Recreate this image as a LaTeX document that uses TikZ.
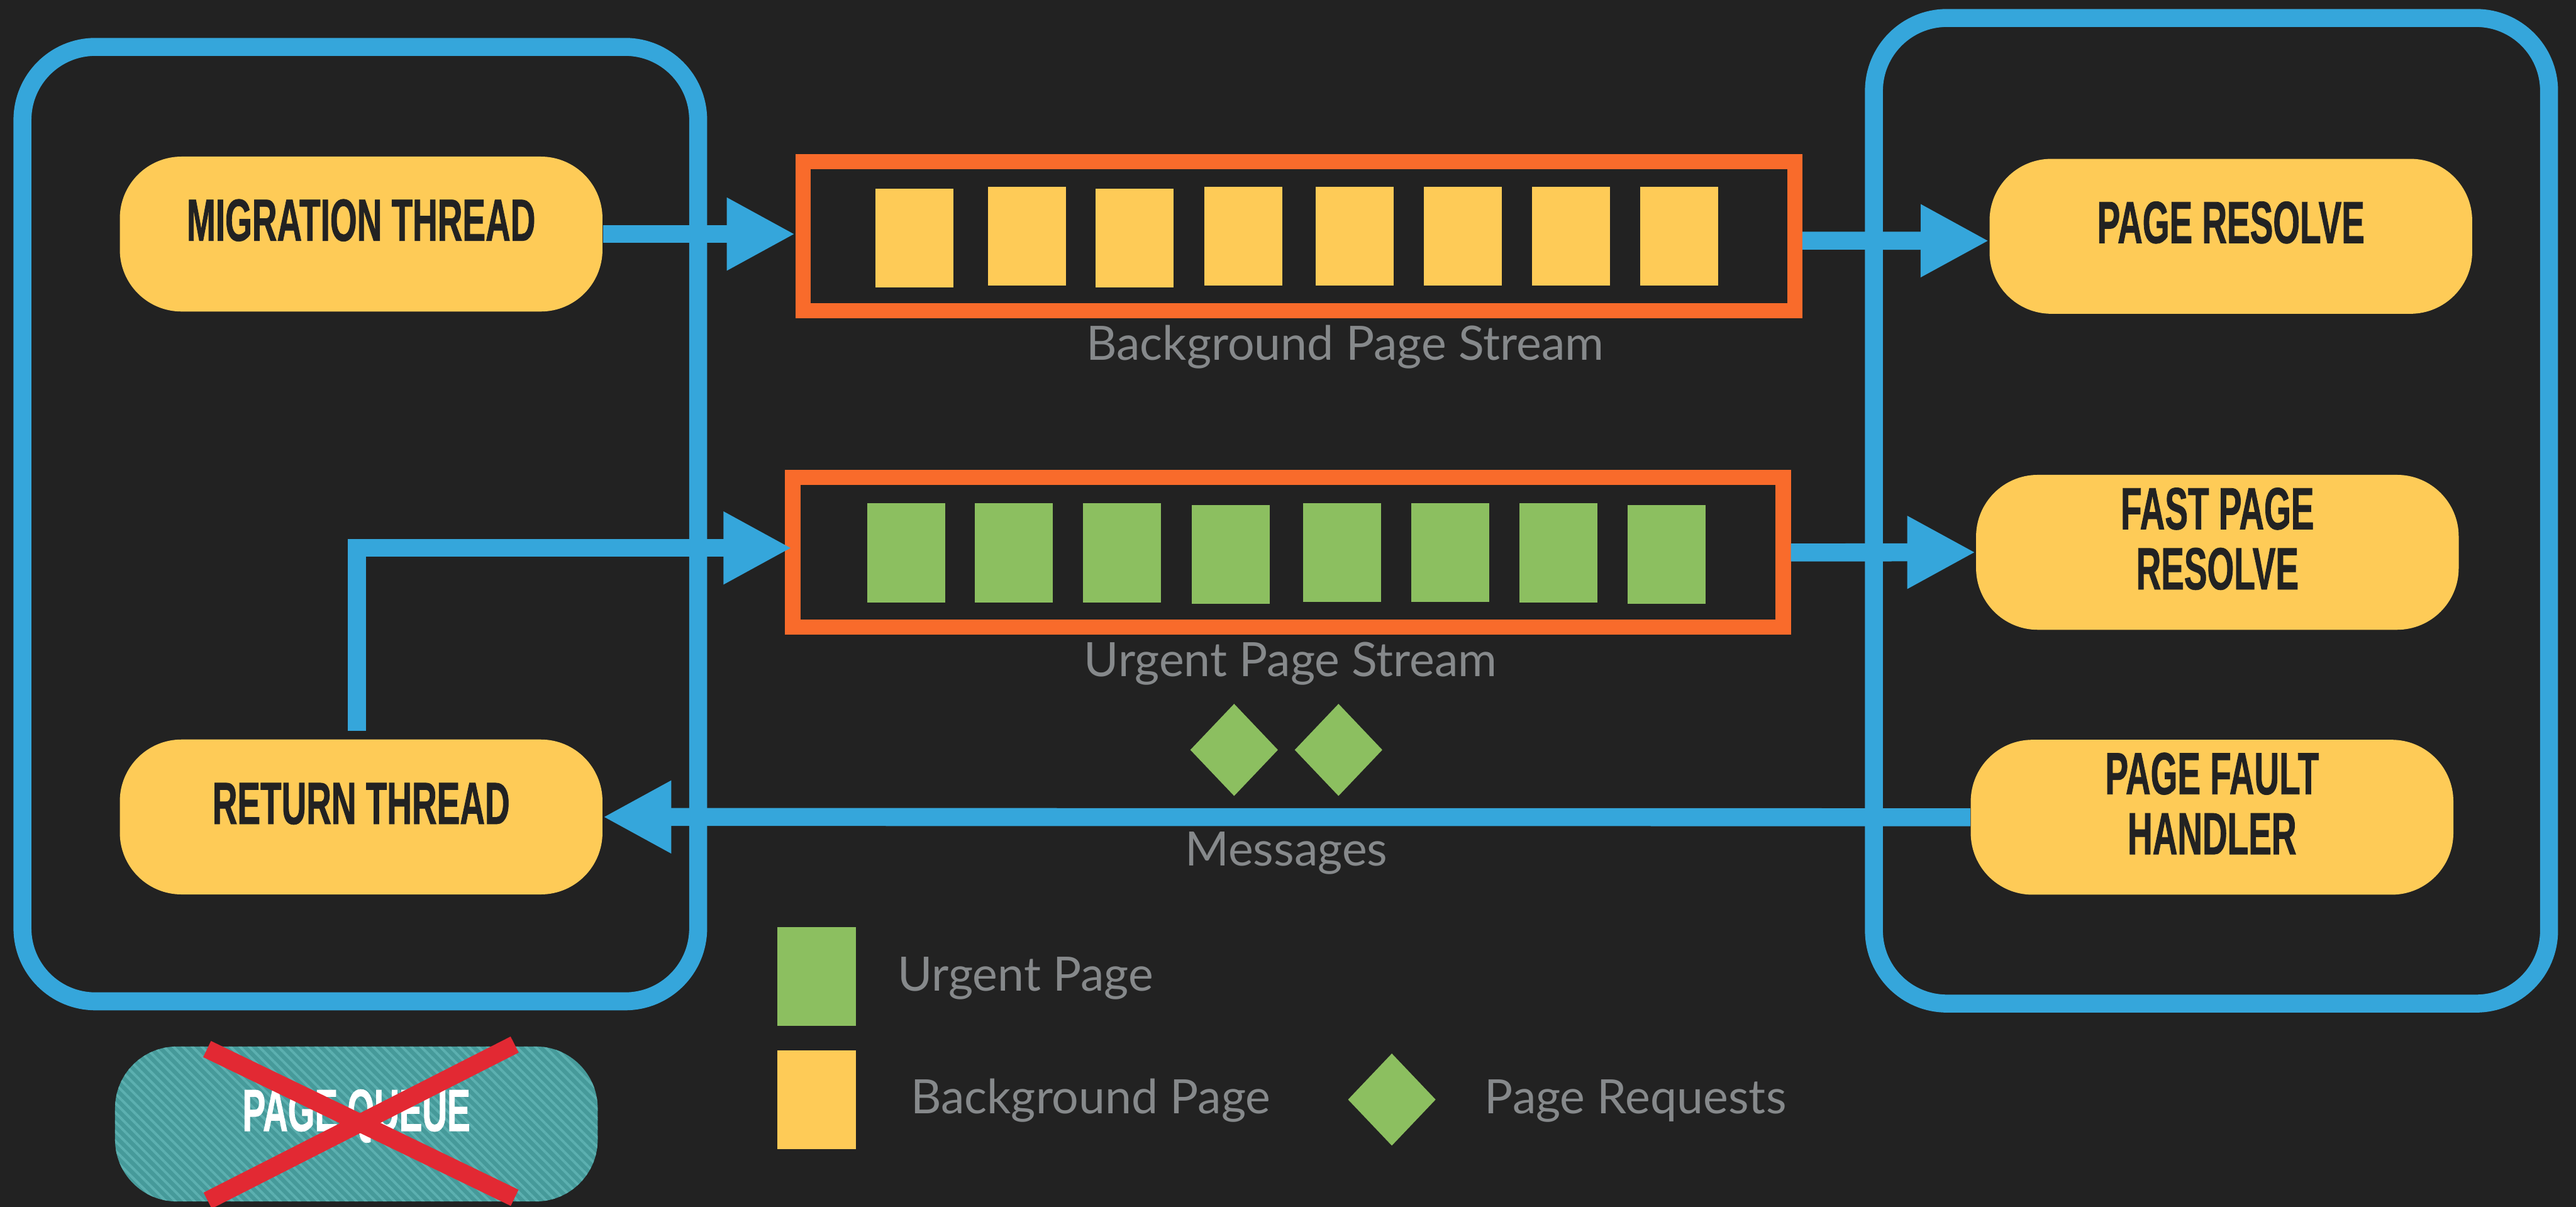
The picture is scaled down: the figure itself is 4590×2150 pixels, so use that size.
\documentclass[tikz,border=0pt]{standalone}
\usepackage{fontspec}
\setmainfont{Lato}
\newfontfamily\condfont{Liberation Sans}[FakeStretch=0.58,FakeBold=0.8]
\newfontfamily\lblfont{Lato}
\usetikzlibrary{arrows.meta,patterns.meta,calc}
\definecolor{cbg}{HTML}{222222}
\definecolor{cblue}{HTML}{35A6DB}
\definecolor{corange}{HTML}{F96B2B}
\definecolor{cyellow}{HTML}{FECB57}
\definecolor{cgreen}{HTML}{8CBF60}
\definecolor{cgrey}{HTML}{86898B}
\definecolor{cdark}{HTML}{222222}
\definecolor{cred}{HTML}{E22933}
\definecolor{cteal}{HTML}{469A9A}
\definecolor{cstripe}{HTML}{5CB0B0}
\begin{document}
\begin{tikzpicture}[x=0.1mm,y=-0.1mm,
  container/.style={draw=cblue, line width=3.2mm, rounded corners=13mm, inner sep=0pt, outer sep=0pt},
  ynode/.style={fill=cyellow, rounded corners=11mm, minimum width=86mm, minimum height=27.6mm, inner sep=0pt},
  ytext/.style={font={\condfont\bfseries\fontsize{30.2}{30.2}\selectfont}, text=cdark, anchor=base, inner sep=0pt},
  stream/.style={draw=corange, line width=2.7mm, inner sep=0pt, minimum height=26.65mm},
  lbl/.style={font={\lblfont\fontsize{24}{24}\selectfont}, text=cgrey, anchor=base west, inner sep=0pt},
  arr/.style={draw=cblue, line width=3.2mm, -{Triangle[length=12.2mm,width=12.1mm]}},
  xline/.style={draw=cred, line width=3.2mm},
]
\fill[cbg] (0,0) rectangle (4590,2150);
\useasboundingbox (0,0) rectangle (4590,2150);

% containers
\node[container, minimum width=120.4mm, minimum height=170.05mm] (lbox) at (642,933.75) {};
\node[container, minimum width=120.3mm, minimum height=175.6mm] (rbox) at (3940.5,910) {};

% streams
\node[stream, minimum width=176.75mm] (bgs) at (2314.25,420.75) {};
\node[stream, minimum width=176.5mm] (ugs) at (2295,984.25) {};
\foreach \x/\y in {1560/336,1760/333,1952/336,2146/333,2344/333,2537/333,2730/333,2922/333}
  \fill[cyellow] (\x,\y) rectangle ++(139,176);
\foreach \x/\y in {1545/897,1737/897,1930/897,2124/900,2322/896,2515/896,2707/897,2900/900}
  \fill[cgreen] (\x,\y) rectangle ++(139,176);

% yellow nodes
\node[ynode] (mig) at (643.5,417) {};
\node[ynode] (ret) at (643.5,1455.5) {};
\node[ynode] (pr) at (3975,421) {};
\node[ynode] (fpr) at (3951,984) {};
\node[ynode] (pfh) at (3941.5,1456) {};

\node[ytext] (migt) at ($(mig.center)+(0,12)$) {MIGRATION THREAD};
\node[ytext] (rett) at ($(ret.center)+(0,12.5)$) {RETURN THREAD};
\node[ytext] (prt) at ($(pr.center)+(0,12)$) {PAGE RESOLVE};
\node[ytext] (fprt1) at ($(fpr.center)+(0,-41)$) {FAST PAGE};
\node[ytext] (fprt2) at ($(fpr.center)+(0,66)$) {RESOLVE};
\node[ytext] (pfht1) at ($(pfh.center)+(0,-41)$) {PAGE FAULT};
\node[ytext] (pfht2) at ($(pfh.center)+(0,66)$) {HANDLER};

% arrows
\draw[arr] (mig.east) -- (mig.east -| bgs.west);
\draw[arr] ($(bgs.east)+(0,8)$) -- ($(pr.west)+(0,8)$);
\draw[arr, line join=miter] ($(ret.north)+(-7.5,-15)$) |- ($(ugs.west)+(12,-8)$);
\draw[arr] (ugs.east) -- (fpr.west);
\draw[arr] (pfh.west) -- (ret.east);

% page request diamonds
\foreach \cx in {2199,2385}
  \fill[cgreen] (\cx,1254) -- (\cx+78,1336) -- (\cx,1418) -- (\cx-78,1336) -- cycle;

% labels
\node[lbl] (bgl) at (1935,642) {Background Page Stream};
\node[lbl] (ugl) at (1931,1205) {Urgent Page Stream};
\node[lbl] (msg) at (2111,1542) {Messages};

% legend
\fill[cgreen] (1385,1652) rectangle (1525,1828);
\fill[cyellow] (1385,1871) rectangle (1525,2047);
\fill[cgreen] (2480,1877) -- (2558,1959) -- (2480,2041) -- (2402,1959) -- cycle;
\node[lbl] (lg1) at (1599,1765) {Urgent Page};
\node[lbl] (lg2) at (1622,1984) {Background Page};
\node[lbl] (lg3) at (2645,1984) {Page Requests};

% page queue (crossed out)
\node[ynode, fill=cteal, postaction={pattern={Lines[angle=-45,distance=1.2mm,line width=0.45mm]}, pattern color=cstripe}] (pq) at (635,2002.5) {};
\node[ytext, text=white] (pqt) at ($(pq.center)+(0,12.5)$) {PAGE QUEUE};
\draw[xline] (369,1869) -- (917,2134);
\draw[xline] (917,1861) -- (370,2139);
\end{tikzpicture}
\end{document}
